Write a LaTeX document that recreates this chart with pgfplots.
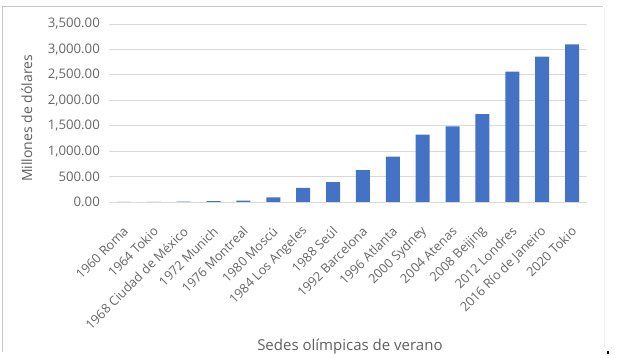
\documentclass[border=0pt]{standalone}
\usepackage{pgfplots}
\pgfplotsset{compat=1.18}
\usepackage{fontspec}
\setmainfont{Open Sans}
\definecolor{barblue}{HTML}{4472C4}
\definecolor{txtgray}{HTML}{5F5F5F}
\definecolor{tickgray}{HTML}{666666}
\definecolor{gridgray}{HTML}{D9D9D9}
\begin{document}
\begin{tikzpicture}[x=1pt,y=1pt]
\useasboundingbox (0,0) rectangle (626,358);
\draw[color=black!22, line width=1pt] (2,6) -- (2,351) -- (603,351);
\draw[color=black!6, line width=0.8pt] (604,351) -- (604,10);
\fill[black] (606.5,4) rectangle (608.5,7);
\begin{axis}[
  at={(109pt,156pt)}, anchor=south west,
  scale only axis, width=478pt, height=178pt,
  xmin=-0.5, xmax=15.5, ymin=0, ymax=3500,
  ytick={0,500,...,3500},
  xtick={0,...,15},
  xticklabels={1960 Roma,1964 Tokio,1968 Ciudad de México,1972 Munich,1976 Montreal,1980 Moscú,1984 Los Angeles,1988 Seúl,1992 Barcelona,1996 Atlanta,2000 Sydney,2004 Atenas,2008 Beijing,2012 Londres,2016 Río de Janeiro,2020 Tokio},
  major tick length=0pt,
  axis line style={draw=none},
  ymajorgrids, grid style={gridgray, line width=0.9pt},
  tick label style={text=tickgray},
  /pgf/number format/.cd, assume math mode=true, fixed, fixed zerofill, precision=2, 1000 sep={,},
  /pgfplots/.cd,
  yticklabel style={anchor=east, inner sep=0pt, xshift=-9pt, font=\fontsize{13.2}{15}\selectfont},
  xticklabel style={inner sep=0pt, xshift=2pt, yshift=-27pt, rotate=45, anchor=east, font=\fontsize{12.8}{15}\selectfont},
  ylabel={Millones de dólares},
  ylabel style={at={(axis description cs:-0.172,0.47)}, anchor=center, text=txtgray, font=\fontsize{14}{16}\selectfont},
  xlabel={Sedes olímpicas de verano},
  xlabel style={at={(axis description cs:0.504,-0.81)}, anchor=center, text=txtgray, font=\fontsize{15}{17}\selectfont},
  clip=false,
]
\addplot[ybar, bar width=14pt, fill=barblue, draw=none] coordinates {
(0,1) (1,3) (2,7) (3,15) (4,28) (5,90) (6,280) (7,393) (8,629) (9,891) (10,1324) (11,1488) (12,1730) (13,2562) (14,2857) (15,3101)
};
\end{axis}
\end{tikzpicture}
\end{document}
